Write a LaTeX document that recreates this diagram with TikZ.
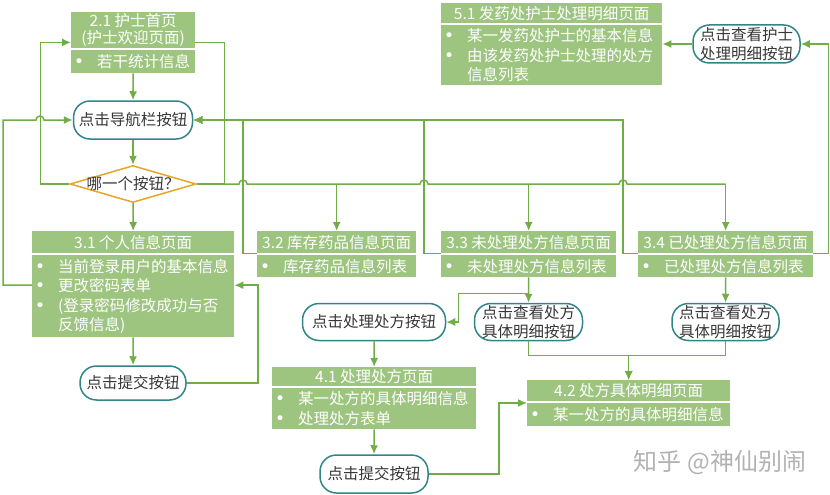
\documentclass[tikz,border=0pt]{standalone}
\usepackage{fontspec}
\setmainfont{Noto Sans CJK SC}
\newfontfamily\dotfont{DejaVu Sans}
\usetikzlibrary{arrows.meta,shapes.geometric}
\definecolor{cpage}{RGB}{157,197,128}
\definecolor{cline}{RGB}{112,173,71}
\definecolor{cteal}{RGB}{49,133,137}
\definecolor{cgold}{RGB}{230,165,40}
\definecolor{ctext}{RGB}{55,55,55}
\definecolor{cmark}{RGB}{178,178,178}
\newcommand{\bul}{\hspace*{3pt}\makebox[23pt][l]{{\dotfont\fontsize{17}{17}\selectfont •}}}
\newcommand{\cont}{\hspace*{26pt}}

\begin{document}
\begin{tikzpicture}[
  x=1pt, y=-1pt,
  font=\fontsize{15.5}{19.5}\selectfont,
  pagehead/.style 2 args={fill=cpage,text=white,anchor=north west,minimum width=#1,minimum height=#2,inner sep=0pt,align=center},
  pagebody/.style 2 args={fill=cpage,text=white,anchor=north west,text width=#1,minimum height=#2,inner xsep=0pt,inner ysep=2pt,align=left},
  btn/.style={draw=cteal,line width=1.5pt,rounded corners=16.5pt,fill=white,text=ctext,align=center,inner sep=1pt,font=\fontsize{15.5}{19}\selectfont},
  choice/.style={diamond,draw=cgold,line width=1.5pt,fill=white,text=ctext,inner sep=0pt,minimum width=126pt,minimum height=37pt},
  link/.style={draw=cline,line width=1.5pt},
  arrow/.style={link,-{Latex[length=9pt,width=8pt]}}
]
  \useasboundingbox (0,0) rectangle (830,495);

  % pages
  \node[pagehead={124pt}{36pt},font=\fontsize{15.5}{16.5}\selectfont] (h21) at (71,12) {2.1 护士首页\\(护士欢迎页面)};
  \node[pagebody={124pt}{23pt}] (b21) at (71,50) {\bul 若干统计信息};

  \node[pagehead={221pt}{20pt}] (h51) at (441,3) {5.1 发药处护士处理明细页面};
  \node[pagebody={221pt}{60pt}] (b51) at (441,25)
    {\bul 某一发药处护士的基本信息\\ \bul 由该发药处护士处理的处方\\ \cont 信息列表};

  \node[pagehead={202pt}{22pt}] (h31) at (32,231) {3.1 个人信息页面};
  \node[pagebody={202pt}{82pt}] (b31) at (32,255)
    {\bul 当前登录用户的基本信息\\ \bul 更改密码表单\\ \bul (登录密码修改成功与否\\ \cont 反馈信息)};

  \node[pagehead={159pt}{22pt}] (h32) at (257,231) {3.2 库存药品信息页面};
  \node[pagebody={159pt}{22pt}] (b32) at (257,255) {\bul 库存药品信息列表};

  \node[pagehead={175pt}{22pt}] (h33) at (441,231) {3.3 未处理处方信息页面};
  \node[pagebody={175pt}{22pt}] (b33) at (441,255) {\bul 未处理处方信息列表};

  \node[pagehead={175pt}{22pt}] (h34) at (638,231) {3.4 已处理处方信息页面};
  \node[pagebody={175pt}{22pt}] (b34) at (638,255) {\bul 已处理处方信息列表};

  \node[pagehead={204pt}{19pt}] (h41) at (272,367) {4.1 处理处方页面};
  \node[pagebody={204pt}{41pt}] (b41) at (272,388)
    {\bul 某一处方的具体明细信息\\ \bul 处理处方表单};

  \node[pagehead={203pt}{21pt}] (h42) at (527,380) {4.2 处方具体明细页面};
  \node[pagebody={203pt}{23pt}] (b42) at (527,403) {\bul 某一处方的具体明细信息};

  % buttons
  \node[btn,minimum width=119pt,minimum height=38pt] (nav) at (133,120) {点击导航栏按钮};
  \node[choice] (choice) at (133,184) {\makebox[0pt]{哪一个按钮？}};
  \node[btn,minimum width=106pt,minimum height=34pt] (sub31) at (133,383) {点击提交按钮};
  \node[btn,minimum width=143pt,minimum height=37pt] (proc) at (374,322) {点击处理处方按钮};
  \node[btn,minimum width=108pt,minimum height=37pt] (det33) at (528.5,322) {点击查看处方\\具体明细按钮};
  \node[btn,minimum width=107pt,minimum height=37pt] (det34) at (725.5,322) {点击查看处方\\具体明细按钮};
  \node[btn,minimum width=108pt,minimum height=38pt] (sub41) at (374,474) {点击提交按钮};
  \node[btn,minimum width=107pt,minimum height=38pt] (nurse) at (746.5,44) {点击查看护士\\处理明细按钮};

  \node[text=cmark,font=\fontsize{24}{26}\selectfont] (mark) at (720,462) {知乎 @神仙别闹};

  % flow
  \draw[arrow] (b21) -- (nav);
  \draw[arrow] (nav) -- (choice);
  \draw[arrow] (choice) -- (h31);
  \draw[arrow] (choice.west) -- ++(-29,0) |- ([yshift=6pt]h21.south west);
  \draw[link] ([yshift=6pt]h21.south east) -- ++(29,0) |- (choice.east);
  \draw[link] (choice.east) -- (239,184) arc[start angle=180,end angle=360,radius=4]
    -- (420,184) arc[start angle=180,end angle=360,radius=4]
    -- (619,184) arc[start angle=180,end angle=360,radius=4] -- (choice.east -| h34.north);
  \draw[arrow] (choice.east -| h32.north) -- (h32.north);
  \draw[arrow] (choice.east -| h33.north) -- (h33.north);
  \draw[arrow] (choice.east -| h34.north) -- (h34.north);

  % back to the navigation bar
  \draw[arrow] (h32.south west) -- ++(-14,0) |- (nav.east);
  \draw[arrow] (h33.south west) -- ++(-17,0) |- (nav.east);
  \draw[arrow] (h34.south west) -- ++(-15,0) |- (nav.east);
  \draw[arrow] ([yshift=11pt]b31.west) -- ++(-29,0) |- (36,120)
    arc[start angle=180,end angle=360,radius=4] -- (nav.west);

  \draw[arrow] (h34.south east) -- ++(15,0) |- (nurse.east);
  \draw[arrow] (nurse.west) -- (nurse.west -| b51.east);

  \draw[arrow] (b31) -- (sub31);
  \draw[arrow] (sub31.east) -- ++(71,0) |- ([yshift=11pt]b31.east);

  \draw[arrow] (b33) -- (det33);
  \draw[arrow] ([yshift=-16pt]b33.south) -- ++(-70,0) |- (proc.east);
  \draw[arrow] (b34) -- (det34);
  \draw[arrow] (proc) -- (h41);
  \draw[arrow] (b41) -- (sub41);
  \draw[arrow] (sub41.east) -- ++(70,0) |- (b42.north west);
  \draw[arrow] (det33.south) -- ++(0,14) -| (h42.north);
  \draw[arrow] (det34.south) -- ++(0,14) -| (h42.north);
\end{tikzpicture}
\end{document}
